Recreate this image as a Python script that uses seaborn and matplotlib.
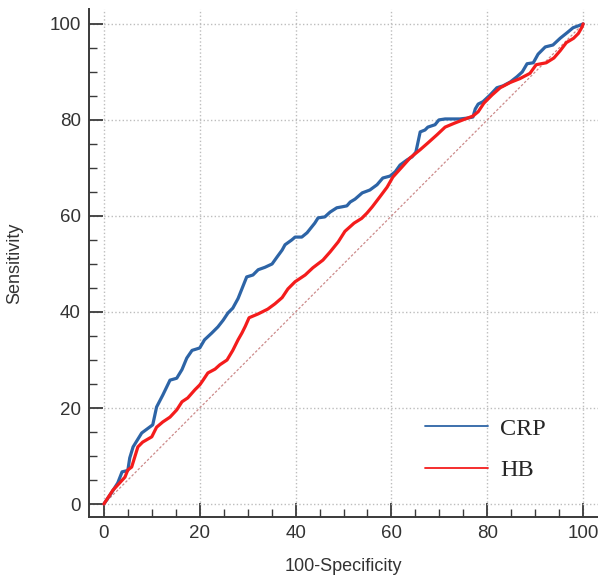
import pandas as pd
import seaborn as sns
import matplotlib.pyplot as plt
from matplotlib.ticker import MultipleLocator

# ROC curve points (100-Specificity, Sensitivity)
crp_x = [0, 1.5, 2.9, 3.8, 5.0, 5.4, 6.1, 7.9, 10.2, 11.0,
         12.3, 13.8, 15.2, 16.3, 17.3, 18.4, 20.0, 21.0, 22.5, 23.8,
         24.9, 25.9, 26.9, 28.0, 28.8, 29.8, 31.1, 32.2, 33.6, 35.1,
         36.1, 37.2, 37.8, 39.2, 39.9, 41.3, 42.4, 44.0, 44.7, 46.1,
         47.2, 48.6, 49.7, 50.7, 51.4, 52.4, 53.9, 55.5, 57.0, 58.2,
         59.7, 60.8, 61.8, 63.3, 64.3, 65.1, 66.0, 67.0, 67.6, 69.1,
         69.9, 71.2, 72.9, 74.3, 76.0, 77.0, 77.5, 78.1, 79.1, 80.6,
         82.0, 83.3, 84.8, 86.2, 87.3, 88.3, 89.6, 90.6, 92.1, 93.7,
         95.2, 96.7, 97.9, 99.0, 100]
crp_y = [0, 2.2, 4.4, 6.7, 7.0, 9.6, 11.9, 14.8, 16.5, 20.2,
         22.7, 25.8, 26.2, 28.0, 30.4, 32.0, 32.5, 34.2, 35.6, 36.9,
         38.3, 39.8, 40.8, 42.8, 44.8, 47.3, 47.7, 48.8, 49.3, 50.0,
         51.4, 52.9, 54.0, 55.0, 55.6, 55.6, 56.5, 58.5, 59.6, 59.8,
         60.8, 61.7, 61.9, 62.1, 62.9, 63.5, 64.8, 65.4, 66.5, 67.9,
         68.3, 69.2, 70.6, 71.7, 72.3, 73.3, 77.5, 77.9, 78.5, 79.0,
         80.0, 80.2, 80.2, 80.2, 80.4, 80.6, 82.3, 83.3, 83.8, 85.2,
         86.7, 87.1, 87.9, 89.0, 90.0, 91.7, 91.9, 93.7, 95.2, 95.6,
         97.0, 98.2, 99.2, 99.6, 100]

hb_x = [0, 1.9, 3.3, 4.4, 5.0, 5.8, 7.1, 8.1, 10.0, 11.0,
        12.3, 13.8, 15.2, 16.3, 17.5, 19.0, 20.0, 20.7, 21.7, 23.2,
        24.2, 25.7, 26.9, 28.0, 28.8, 29.5, 30.3, 32.2, 34.2, 35.7,
        37.2, 38.4, 39.9, 42.0, 43.6, 45.7, 47.2, 48.9, 50.3, 52.2,
        53.8, 54.9, 56.0, 57.6, 59.1, 60.3, 62.2, 63.9, 66.0, 67.6,
        69.5, 71.2, 73.1, 74.9, 77.0, 78.1, 79.3, 81.0, 82.7, 84.8,
        86.8, 88.9, 90.2, 92.3, 93.9, 95.2, 96.5, 98.0, 99.0, 99.8,
        100]
hb_y = [0, 2.9, 4.4, 5.6, 7.1, 7.7, 11.9, 12.9, 14.0, 16.0,
        17.1, 18.1, 19.6, 21.3, 22.1, 23.8, 24.8, 25.8, 27.3, 28.1,
        29.0, 30.0, 32.0, 34.2, 35.6, 37.0, 38.8, 39.6, 40.6, 41.7,
        43.0, 44.8, 46.3, 47.7, 49.2, 50.8, 52.5, 54.6, 56.8, 58.5,
        59.5, 60.6, 61.9, 64.0, 66.0, 68.1, 70.2, 72.1, 73.8, 75.2,
        76.9, 78.5, 79.3, 80.0, 80.8, 81.7, 83.5, 85.2, 86.7, 87.8,
        88.6, 89.7, 91.5, 91.9, 92.9, 94.4, 96.1, 97.0, 98.0, 99.4,
        100]

ref_line = [0, 100]

df = pd.concat([
    pd.DataFrame({'fpr': crp_x, 'tpr': crp_y, 'Marker': 'CRP'}),
    pd.DataFrame({'fpr': hb_x, 'tpr': hb_y, 'Marker': 'HB'}),
], ignore_index=True)

sns.set_style('white')
plt.rcParams['font.family'] = ['Liberation Sans', 'DejaVu Sans']

fig = plt.figure(figsize=(5.98, 5.77), dpi=100)
ax = fig.add_axes([89 / 598, 60 / 577, 509 / 598, 508 / 577])

# chance line
ax.plot(ref_line, ref_line, color='#cc8a8a', lw=0.9, ls=(0, (2, 1.5)), zorder=1)

sns.lineplot(data=df, x='fpr', y='tpr', hue='Marker', hue_order=['CRP', 'HB'],
             palette={'CRP': '#2d64a6', 'HB': '#f41c1c'}, sort=False,
             estimator=None, lw=2.3, ax=ax, zorder=3)

ax.set_xlim(-3.1, 103.1)
ax.set_ylim(-2.7, 103.1)
ax.xaxis.set_major_locator(MultipleLocator(20))
ax.yaxis.set_major_locator(MultipleLocator(20))
ax.xaxis.set_minor_locator(MultipleLocator(5))
ax.yaxis.set_minor_locator(MultipleLocator(5))

ax.grid(True, which='major', color='#bdbdbd', ls=':', lw=1.0)
for s in ['top', 'right']:
    ax.spines[s].set_visible(False)
for s in ['left', 'bottom']:
    ax.spines[s].set_color('#3a3a3a')
    ax.spines[s].set_linewidth(1.4)

ax.tick_params(which='both', bottom=True, left=True, top=False, right=False)
ax.tick_params(which='major', direction='in', length=10, width=1.3,
               color='#3a3a3a', labelsize=13.5, labelcolor='#333333', pad=6)
ax.tick_params(which='minor', direction='in', length=5.5, width=1.0,
               color='#3a3a3a')

ax.set_xlabel('100-Specificity', fontsize=13, color='#333333', labelpad=11)
ax.set_ylabel('Sensitivity', fontsize=13, color='#333333', labelpad=19)

handles, labels = ax.get_legend_handles_labels()
leg = ax.legend(handles, labels, loc='center left', bbox_to_anchor=(67, 11.4),
                bbox_transform=ax.transData, frameon=False, borderpad=0,
                borderaxespad=0, handlelength=2.6, handletextpad=0.5,
                labelspacing=0.8,
                prop={'family': 'Liberation Serif', 'size': 17.5})
for line in leg.get_lines():
    line.set_linewidth(1.3)

plt.savefig('out.png', dpi=100)
